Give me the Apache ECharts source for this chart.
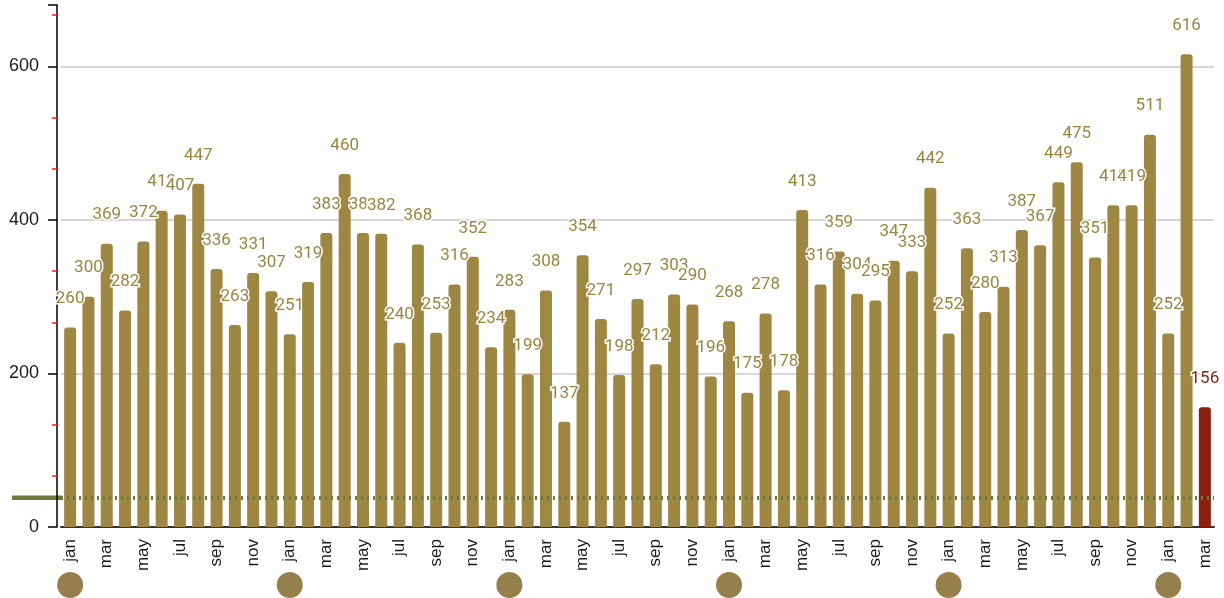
<!DOCTYPE html>
<html>
<head>
<meta charset="utf-8">
<script src="https://cdn.jsdelivr.net/npm/echarts@6/dist/echarts.min.js"></script>
<style>
    html, body { margin: 0; padding: 0; background: #fff; }
    #chart { width: 1224px; height: 598px; }
</style>
</head>
<body>
<div id="chart"></div>
<script>
// Month labels, one per bar (5 full years plus jan-mar)
const monthNames = ['jan', 'feb', 'mar', 'apr', 'may', 'jun', 'jul', 'aug', 'sep', 'oct', 'nov', 'dec'];
const months = [];
for (let y = 0; y < 5; y++) months.push(...monthNames);
months.push('jan', 'feb', 'mar');

// Monthly counts
const year1 = [260, 300, 369, 282, 372, 412, 407, 447, 336, 263, 331, 307];
const year2 = [251, 319, 383, 460, 383, 382, 240, 368, 253, 316, 352, 234];
const year3 = [283, 199, 308, 137, 354, 271, 198, 297, 212, 303, 290, 196];
const year4 = [268, 175, 278, 178, 413, 316, 359, 304, 295, 347, 333, 442];
const year5 = [252, 363, 280, 313, 387, 367, 449, 475, 351, 419, 419, 511];
const year6 = [252, 616, 156];
const values = [...year1, ...year2, ...year3, ...year4, ...year5, ...year6];

// Reference level drawn as the dotted line
const refLevel = 38;

// Y axis ticks
const yMax = 680;
const yInterval = 200;

const BAR = '#9e8743';
const BAR_LAST = '#8a1f0f';
const REF = '#6e7a3c';
const YEAR_DOT = '#957f4b';
const MINOR = '#ff2020';
const AXIS_FONT = 'Liberation Sans';

const chart = echarts.init(document.getElementById('chart'));

// Last bar (current, incomplete month) gets the dark red colour
const barData = values.map((v, i) => {
    if (i === values.length - 1) {
        return {
            value: v,
            itemStyle: { color: BAR_LAST },
            label: { color: BAR_LAST }
        };
    }
    return v;
});

chart.setOption({
    animation: false,
    textStyle: { fontFamily: 'Roboto' },
    grid: { left: 61, right: 10, top: 5, bottom: 71, containLabel: false },
    xAxis: [
        {
            type: 'category',
            data: months,
            axisLine: { lineStyle: { color: '#333', width: 2 } },
            axisTick: { show: false },
            axisLabel: {
                interval: 1,
                rotate: 90,
                margin: 12,
                fontSize: 17,
                fontFamily: AXIS_FONT,
                color: '#1a1a1a'
            }
        },
        {
            // year markers: one dot under every january
            type: 'category',
            data: months,
            position: 'bottom',
            offset: 40,
            axisLine: { show: false },
            axisTick: { show: false },
            axisLabel: {
                interval: 11,
                margin: 5,
                formatter: () => '{c|}',
                rich: {
                    c: { width: 26, height: 26, borderRadius: 13, backgroundColor: YEAR_DOT }
                }
            }
        }
    ],
    yAxis: [
        {
            type: 'value',
            min: 0,
            max: yMax,
            interval: yInterval,
            offset: 4,
            axisLine: { show: true, lineStyle: { color: '#000', width: 1.5 } },
            axisTick: { show: true, length: 9, lineStyle: { color: '#000', width: 1.5 } },
            minorTick: { show: true, splitNumber: 3, length: 4, lineStyle: { color: MINOR, width: 1.5 } },
            axisLabel: { fontSize: 18, fontFamily: AXIS_FONT, color: '#1a1a1a', margin: 18, showMaxLabel: false },
            splitLine: { show: true, showMaxLine: false, showMinLine: false, lineStyle: { color: '#c8c8c8', width: 1.5 } }
        },
        {
            // same scale, minor ticks drawn inward so they cross the axis line
            type: 'value',
            min: 0,
            max: yMax,
            interval: yInterval,
            offset: 4,
            position: 'left',
            axisLine: { show: false },
            axisTick: { show: false },
            minorTick: { show: true, splitNumber: 3, length: 5, lineStyle: { color: MINOR, width: 1.5 } },
            axisLabel: { show: false },
            splitLine: { show: false }
        }
    ],
    series: [
        {
            type: 'line',
            data: [],
            z: 1,
            silent: true,
            markLine: {
                symbol: 'none',
                silent: true,
                label: { show: false },
                lineStyle: { color: REF, width: 4, type: [2, 4] },
                data: [{ yAxis: refLevel }]
            }
        },
        {
            type: 'bar',
            data: barData,
            z: 2,
            barWidth: 12,
            itemStyle: { color: BAR, borderRadius: [3, 3, 0, 0] },
            label: {
                show: true,
                position: 'top',
                distance: 20,
                fontSize: 17,
                color: '#9a8540',
                textBorderColor: '#fff',
                textBorderWidth: 3
            }
        }
    ]
});

// solid stub of the reference line, left of the y axis
const refY = chart.convertToPixel({ yAxisIndex: 0 }, refLevel);
chart.setOption({
    graphic: [{
        type: 'line',
        z: 0,
        shape: { x1: 12, y1: refY, x2: 62, y2: refY },
        style: { stroke: REF, lineWidth: 4.5 }
    }]
});
</script>
</body>
</html>
